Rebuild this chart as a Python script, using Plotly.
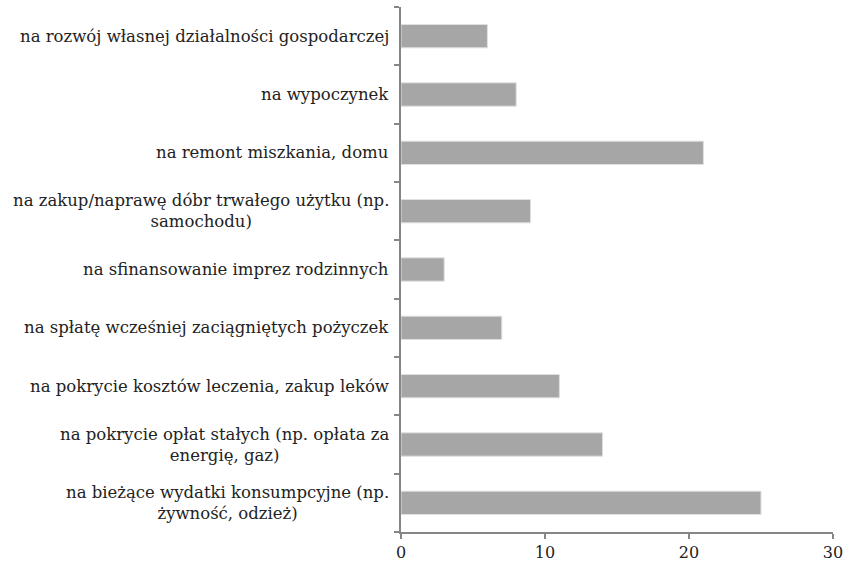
import plotly.graph_objects as go

categories = [
    "na rozwój własnej działalności gospodarczej",
    "na wypoczynek",
    "na remont miszkania, domu",
    "na zakup/naprawę dóbr trwałego użytku (np.<br>samochodu)",
    "na sfinansowanie imprez rodzinnych",
    "na spłatę wcześniej zaciągniętych pożyczek",
    "na pokrycie kosztów leczenia, zakup leków",
    "na pokrycie opłat stałych (np. opłata za<br>energię, gaz)",
    "na bieżące wydatki konsumpcyjne (np.<br>żywność, odzież)",
]
values = [6, 8, 21, 9, 3, 7, 11, 14, 25]
x_ticks = [0, 10, 20, 30]

FONT = "DejaVu Serif"
AXIS = "#868686"

fig = go.Figure(go.Bar(
    x=values, y=categories, orientation="h",
    marker=dict(color="#A6A6A6", line=dict(color="#E0E0E0", width=1)),
    hoverinfo="skip",
))

annotations = [
    dict(text=c, x=0, y=c, xref="paper", yref="y", xanchor="right",
         yanchor="middle", align="center", xshift=-10, showarrow=False,
         font=dict(family=FONT, size=16.5, color="#222222"))
    for c in categories
]

fig.update_layout(
    width=844, height=568,
    margin=dict(l=401, r=11, t=7, b=36),
    paper_bgcolor="white", plot_bgcolor="white",
    bargap=0.6, showlegend=False,
    annotations=annotations,
    xaxis=dict(range=[0, 30], tickvals=x_ticks, showgrid=False, zeroline=False,
               showline=True, linecolor=AXIS, linewidth=1.5, automargin=False,
               ticks="outside", ticklen=5, tickcolor=AXIS, tickwidth=1.5,
               tickfont=dict(family=FONT, size=16, color="#222222")),
    yaxis=dict(categoryorder="array", categoryarray=categories[::-1],
               autorange=True, showgrid=False, zeroline=False, automargin=False,
               showline=True, linecolor=AXIS, linewidth=1.5,
               ticks="outside", ticklen=5, tickcolor=AXIS, tickwidth=1.5,
               tickson="boundaries", showticklabels=False),
)

fig.write_html("out.html", config={"displayModeBar": False},
               post_script="document.body.style.margin='0';")
